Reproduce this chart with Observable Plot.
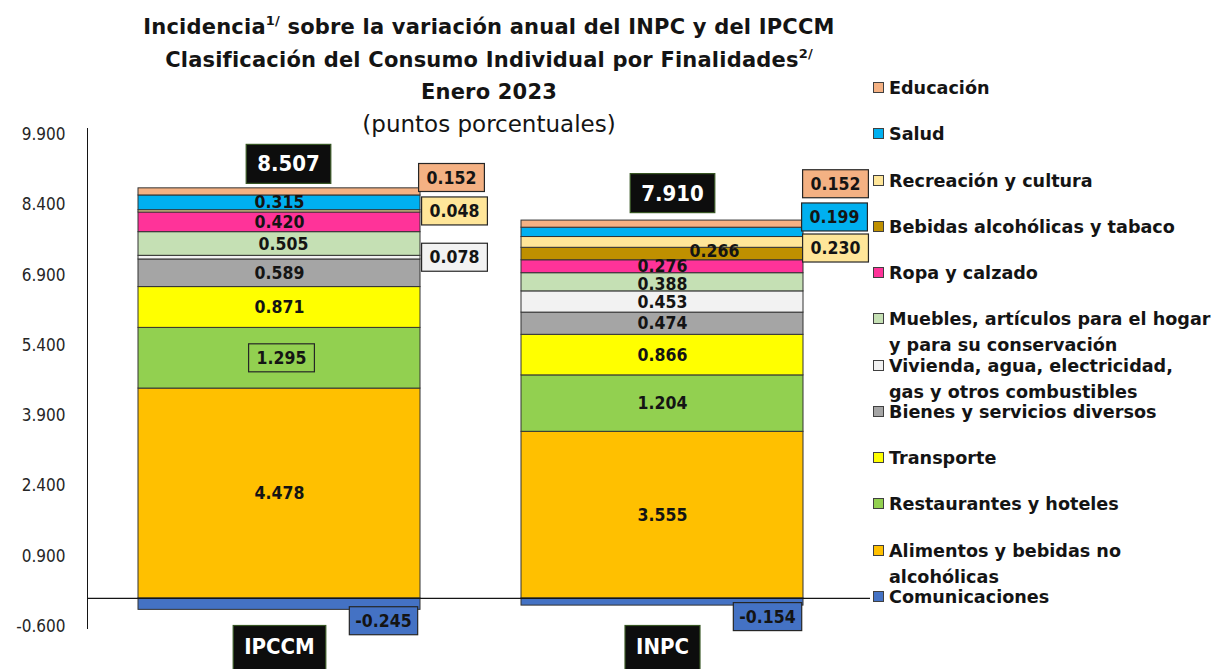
<!DOCTYPE html>
<html><head><meta charset="utf-8">
<script src="https://cdn.jsdelivr.net/npm/d3@7"></script>
<script src="https://cdn.jsdelivr.net/npm/@observablehq/plot@0.6"></script>
<style>
body{margin:0;background:#fff;width:1211px;height:669px;position:relative;overflow:hidden;font-family:"DejaVu Sans",sans-serif;color:#141414;}
#title{position:absolute;left:0;top:11px;width:978px;text-align:center;font-weight:bold;font-size:21px;letter-spacing:0.2px;line-height:32.5px;z-index:2;}
#title .sub{font-weight:normal;font-size:23px;letter-spacing:0;line-height:28px;}
#title sup{font-size:13px;vertical-align:9px;line-height:0;}
#chart{position:absolute;left:0;top:0;}
#legend{position:absolute;left:872px;top:0;font-family:"DejaVu Sans",sans-serif;font-weight:bold;font-size:17.6px;}
.item{position:absolute;left:0;white-space:pre;line-height:26px;}
.sw{position:absolute;left:1px;top:7px;width:11px;height:11px;border:1px solid #404040;box-sizing:border-box;}
.lt{position:absolute;left:17px;top:0;}
</style></head><body>
<div id="title">Incidencia<sup>1/</sup> sobre la variación anual del INPC y del IPCCM<br>Clasificación del Consumo Individual por Finalidades<sup>2/</sup><br>Enero 2023<br><span class="sub">(puntos porcentuales)</span></div>
<div id="chart"></div>
<div id="legend"></div>
<script>
// ---- data ----
const categories = ["IPCCM", "INPC"];
const groups = [
  "Comunicaciones",
  "Alimentos y bebidas no alcohólicas",
  "Restaurantes y hoteles",
  "Transporte",
  "Bienes y servicios diversos",
  "Vivienda, agua, electricidad, gas y otros combustibles",
  "Muebles, artículos para el hogar y para su conservación",
  "Ropa y calzado",
  "Bebidas alcohólicas y tabaco",
  "Recreación y cultura",
  "Salud",
  "Educación"
];
const ipccmValues = [-0.245, 4.478, 1.295, 0.871, 0.589, 0.078, 0.505, 0.420, 0, 0.048, 0.315, 0.152];
const inpcValues  = [-0.154, 3.555, 1.204, 0.866, 0.474, 0.453, 0.388, 0.276, 0.266, 0.230, 0.199, 0.152];
const totals = [8.507, 7.910];
const colors = ["#4472C4", "#FFC000", "#92D050", "#FFFF00", "#A5A5A5", "#F2F2F2", "#C5E0B4", "#FF3399", "#BF9000", "#FFE699", "#00B0F0", "#F4B183"];
const legendLabels = [
  "Educación",
  "Salud",
  "Recreación y cultura",
  "Bebidas alcohólicas y tabaco",
  "Ropa y calzado",
  "Muebles, artículos para el hogar\ny para su conservación",
  "Vivienda, agua, electricidad,\ngas y otros combustibles",
  "Bienes y servicios diversos",
  "Transporte",
  "Restaurantes y hoteles",
  "Alimentos y bebidas no\nalcohólicas",
  "Comunicaciones"
];
const yTicks = [-0.6, 0.9, 2.4, 3.9, 5.4, 6.9, 8.4, 9.9];

// ---- label placement (pixel offsets from the segment centre) and box styles ----
const placement = {
  "IPCCM|Educación": {dx: 172, dy: -14, box: "fill"},
  "IPCCM|Recreación y cultura": {dx: 175, dy: 0, box: "fill"},
  "IPCCM|Vivienda, agua, electricidad, gas y otros combustibles": {dx: 175, dy: 0, box: "fill"},
  "IPCCM|Restaurantes y hoteles": {dx: 2, dy: 0, box: "frame"},
  "IPCCM|Muebles, artículos para el hogar y para su conservación": {dx: 4, dy: 0},
  "IPCCM|Comunicaciones": {dx: 104, dy: 17, box: "fill", condensed: true},
  "INPC|Educación": {dx: 173, dy: -40, box: "fill"},
  "INPC|Salud": {dx: 172, dy: -15, box: "fill"},
  "INPC|Recreación y cultura": {dx: 173, dy: 6, box: "fill"},
  "INPC|Bebidas alcohólicas y tabaco": {dx: 52, dy: -3},
  "INPC|Muebles, artículos para el hogar y para su conservación": {dx: 0, dy: 2},
  "INPC|Comunicaciones": {dx: 105, dy: 15, box: "fill", condensed: true}
};
const totalOffsets = [{dx: 9, dy: -24}, {dx: 10, dy: -27}];

const fmt = v => d3.format(".3f")(v).replace("\u2212", "-");
const series = [ipccmValues, inpcValues];

// stack
const rows = [];
categories.forEach((cat, ci) => {
  let pos = 0, neg = 0;
  series[ci].forEach((v, gi) => {
    if (!v) return;
    let y1, y2;
    if (v >= 0) { y1 = pos; y2 = pos + v; pos = y2; }
    else { y1 = neg; y2 = neg + v; neg = y2; }
    rows.push({cat, group: groups[gi], value: v, y1, y2, ym: (y1 + y2) / 2, color: colors[gi], label: fmt(v)});
  });
  rows.push({cat, total: true, top: pos, label: fmt(totals[ci]), ci});
});
const segs = rows.filter(d => !d.total);
const tots = rows.filter(d => d.total);

const FONT = "'DejaVu Sans Condensed','DejaVu Sans',sans-serif";
const boxSpecs = [];
const labelMarks = [];
segs.forEach(d => {
  const p = placement[d.cat + "|" + d.group] || {dx: 0, dy: 0};
  let className;
  if (p.box) {
    className = "bx" + boxSpecs.length;
    boxSpecs.push({cls: className, fill: p.box === "fill" ? d.color : "none", stroke: "#262626", px: p.condensed ? 6 : 8, py: 4});
  }
  labelMarks.push(Plot.text([d], {x: "cat", y: "ym", text: "label", dx: p.dx, dy: p.dy,
    fontSize: 17.5, fontWeight: "bold", fill: "#141414", className,
    fontStretch: p.condensed ? "condensed" : undefined}));
});
tots.forEach((d, i) => {
  const className = "bx" + boxSpecs.length;
  boxSpecs.push({cls: className, fill: "#0d0d0d", stroke: "#375623", px: 11, py: 7});
  labelMarks.push(Plot.text([d], {x: "cat", y: "top", text: "label", dx: totalOffsets[i].dx, dy: totalOffsets[i].dy,
    fontSize: 22, fontWeight: "bold", fill: "white", className}));
});
boxSpecs.push({cls: "bxcat", fill: "#0d0d0d", stroke: "#375623", px: 11, py: 8, extendBottom: 20});

const chart = Plot.plot({
  width: 1211, height: 669,
  marginLeft: 87, marginRight: 356, marginTop: 134, marginBottom: 43,
  style: {fontFamily: FONT, background: "transparent", color: "#141414"},
  x: {domain: categories, paddingInner: 0.263, paddingOuter: 0.132, axis: null},
  y: {domain: [-0.6, 9.9]},
  color: {type: "identity"},
  marks: [
    Plot.axisY(yTicks, {tickSize: 0, tickPadding: 22, tickFormat: fmt, fontSize: 17, label: null, fill: "#262626"}),
    Plot.frame({anchor: "left", stroke: "#141414", insetTop: -6, insetBottom: -2}),
    Plot.barY(segs, {x: "cat", y1: "y1", y2: "y2", fill: "color", stroke: "#333", strokeWidth: 1}),
    Plot.ruleY([0], {stroke: "#141414", strokeWidth: 1.2, insetRight: -15}),
    ...labelMarks,
    Plot.text(categories, {x: d => d, frameAnchor: "bottom", dy: 27, fontSize: 22, fontWeight: "bold", fill: "white", className: "bxcat"})
  ]
});
document.getElementById("chart").append(chart);

// draw boxes behind boxed labels
boxSpecs.forEach(b => {
  d3.select(chart).selectAll("g." + b.cls + " text").each(function() {
    const bb = this.getBBox();
    const r = document.createElementNS("http://www.w3.org/2000/svg", "rect");
    r.setAttribute("x", bb.x - b.px);
    r.setAttribute("y", bb.y - b.py);
    r.setAttribute("width", bb.width + 2 * b.px);
    r.setAttribute("height", bb.height + 2 * b.py + (b.extendBottom || 0));
    r.setAttribute("fill", b.fill);
    r.setAttribute("stroke", b.stroke);
    r.setAttribute("stroke-width", 1.2);
    const t = this.getAttribute("transform");
    if (t) r.setAttribute("transform", t);
    this.parentNode.insertBefore(r, this);
  });
});

// legend
const legend = d3.select("#legend");
const rowStep = 46.27;
legendLabels.forEach((lab, i) => {
  const gi = groups.length - 1 - i;
  const it = legend.append("div").attr("class", "item").style("top", (75 + i * rowStep) + "px");
  it.append("div").attr("class", "sw").style("background", colors[gi]);
  it.append("div").attr("class", "lt").text(lab);
});
</script>
</body></html>
